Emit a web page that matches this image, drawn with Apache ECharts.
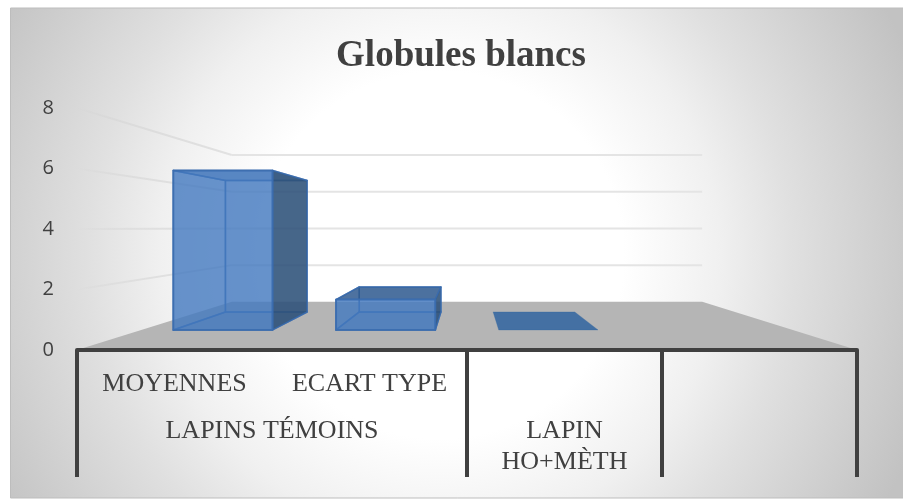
<!DOCTYPE html>
<html>
<head>
<meta charset="utf-8">
<style>html,body{margin:0;padding:0;background:#fff}#c{width:903px;height:500px}</style>
<script src="https://cdn.jsdelivr.net/npm/echarts@6/dist/echarts.min.js"></script>
</head>
<body>
<div id="c"></div>
<script>
var titleText = 'Globules blancs';
var categories = ['MOYENNES', 'ECART TYPE', '', ''];
var values = [6.3, 1.2, 0];
var groupLabels = ['LAPINS TÉMOINS', 'LAPIN\nHO+MÈTH', ''];
var groupSpans = [2, 1, 1];
var wallTicks = [2, 4, 6, 8];

var kx = 0.603, ky = 0.607, eyeValue = 4.05;
var depthFront = 0.417, depthBack = 0.79, barShare = 0.61;
var serif = '"Liberation Serif","Times New Roman",serif';

function projector(api) {
  var size = api.size([1, 0])[0];
  var vp = api.coord([1, eyeValue]);
  var vx = vp[0] + size / 2, vy = vp[1];
  return function (p, t) {
    var bx = vx + kx * (p[0] - vx), by = vy + ky * (p[1] - vy);
    return [p[0] + t * (bx - p[0]), p[1] + t * (by - p[1])];
  };
}
function wallItem(params, api) {
  var P = projector(api), size = api.size([1, 0])[0];
  var v = api.value(1);
  var l = api.coord([0, v]); l[0] -= size / 2;
  var r = api.coord([categories.length - 1, v]); r[0] += size / 2;
  var a = P(l, 1), b = P(r, 1);
  return { type: 'group', children: [
    { type: 'line', shape: { x1: l[0], y1: l[1], x2: a[0], y2: a[1] },
      style: { lineWidth: 2, stroke: { type: 'linear', x: l[0], y: 0, x2: a[0], y2: 0, global: true,
        colorStops: [{ offset: 0, color: 'rgba(190,190,190,0)' }, { offset: 1, color: '#e2e2e2' }] } } },
    { type: 'line', shape: { x1: a[0], y1: a[1], x2: b[0], y2: b[1] },
      style: { lineWidth: 2, stroke: '#e4e4e4' } }
  ] };
}
function floorItem(params, api) {
  var P = projector(api), size = api.size([1, 0])[0];
  var l = api.coord([0, 0]); l[0] -= size / 2;
  var r = api.coord([categories.length - 1, 0]); r[0] += size / 2;
  return { type: 'polygon', shape: { points: [l, r, P(r, 1), P(l, 1)] }, style: { fill: '#b5b5b5' } };
}
function barItem(params, api) {
  var P = projector(api), size = api.size([1, 0])[0];
  var i = api.value(0), v = api.value(1);
  var b = api.coord([i, 0]), t = api.coord([i, v]);
  var hw = barShare * size / 2;
  var bl = [b[0] - hw, b[1]], br = [b[0] + hw, b[1]], tl = [t[0] - hw, t[1]], tr = [t[0] + hw, t[1]];
  var f = function (p) { return P(p, depthFront); }, k = function (p) { return P(p, depthBack); };
  var stroke = 'rgba(58,108,174,0.8)';
  function face(pts, fill, w) {
    return { type: 'polygon', shape: { points: pts }, style: { fill: fill, stroke: stroke, lineWidth: w || 1.5, lineJoin: 'round' } };
  }
  var flat = v === 0;
  var topVisible = v < eyeValue;
  var kids = [];
  if (!flat) {
    kids.push(face([k(bl), k(br), k(tr), k(tl)], 'rgba(68,120,190,0.3)'));
    kids.push(face([f(bl), k(bl), k(tl), f(tl)], 'rgba(68,120,190,0.25)'));
    kids.push(face([f(bl), f(br), k(br), k(bl)], 'rgba(50,100,170,0.35)'));
  }
  kids.push({ type: 'polygon', shape: { points: [f(tl), f(tr), k(tr), k(tl)] },
    style: { fill: flat ? 'rgba(48,100,160,0.85)' : (topVisible ? 'rgba(45,88,140,0.8)' : 'rgba(48,96,160,0.5)'),
      stroke: flat ? 'rgba(48,100,160,0.6)' : stroke, lineWidth: flat ? 0.5 : 1.5, lineJoin: 'round' } });
  if (!flat) {
    kids.push(face([f(br), k(br), k(tr), f(tr)], 'rgba(45,80,118,0.84)'));
    kids.push(face([f(bl), f(br), f(tr), f(tl)], 'rgba(68,122,192,0.74)', 2));
  }
  return { type: 'group', children: kids };
}
function dividerItem(params, api) {
  var size = api.size([1, 0])[0];
  var start = 0;
  for (var n = 0; n < params.dataIndex; n++) start += groupSpans[n];
  var c = api.coord([start, 0]);
  var left = c[0] - size / 2, right = left + groupSpans[params.dataIndex] * size;
  var kids = [
    { type: 'line', shape: { x1: right, y1: c[1], x2: right, y2: c[1] + 127 }, style: { stroke: '#404040', lineWidth: 4 } },
    { type: 'text', style: { text: groupLabels[params.dataIndex], x: (left + right) / 2, y: c[1] + 66,
      align: 'center', verticalAlign: 'top', font: '26px ' + serif, fill: '#404040', lineHeight: 31 } }
  ];
  if (params.dataIndex === 0) kids.push({ type: 'line', shape: { x1: left, y1: c[1], x2: left, y2: c[1] + 127 }, style: { stroke: '#404040', lineWidth: 4 } });
  return { type: 'group', children: kids };
}

var chart = echarts.init(document.getElementById('c'), null, { renderer: 'canvas' });
chart.setOption({
  animation: false,
  backgroundColor: '#ffffff',
  graphic: [{
    type: 'rect', z: -10, silent: true,
    shape: { x: 10.5, y: 8, width: 900, height: 490 },
    style: { stroke: '#bdbdbd', lineWidth: 1, fill: { type: 'radial', x: 440, y: 255, r: 510, global: true,
      colorStops: [{ offset: 0, color: '#ffffff' }, { offset: 0.36, color: '#ffffff' }, { offset: 0.55, color: '#f0f0f0' }, { offset: 0.69, color: '#e0e0e0' }, { offset: 1, color: '#c2c2c2' }] } }
  }],
  title: { text: titleText, left: 456, top: 33, textAlign: 'center',
    textStyle: { fontFamily: serif, fontWeight: 'bold', fontSize: 37, color: '#404040' } },
  grid: { left: 77, right: 46, top: 108, bottom: 150, containLabel: false },
  xAxis: { type: 'category', data: categories, z: 5,
    axisLine: { show: true, onZero: false, lineStyle: { color: '#404040', width: 4 } },
    axisTick: { show: false }, splitLine: { show: false },
    axisLabel: { interval: 0, margin: 21, color: '#404040', fontFamily: serif, fontSize: 26 } },
  yAxis: { type: 'value', min: 0, max: 8, interval: 2,
    axisLine: { show: false }, axisTick: { show: false }, splitLine: { show: false },
    axisLabel: { margin: 23, color: '#404040', fontFamily: '"Open Sans"', fontSize: 20 } },
  series: [
    { type: 'custom', z: 1, silent: true, renderItem: wallItem, encode: { x: 0, y: 1 }, data: wallTicks.map(function (v) { return [0, v]; }) },
    { type: 'custom', z: 2, silent: true, renderItem: floorItem, encode: { x: 0, y: 1 }, data: [[0, 0]] },
    { type: 'custom', z: 3, silent: true, renderItem: barItem, encode: { x: 0, y: 1 }, data: values.map(function (v, i) { return [i, v]; }) },
    { type: 'custom', z: 6, silent: true, renderItem: dividerItem, encode: { x: 0, y: 1 }, data: groupLabels.map(function (g, i) { return [i, 0]; }) }
  ]
});
</script>
</body>
</html>
